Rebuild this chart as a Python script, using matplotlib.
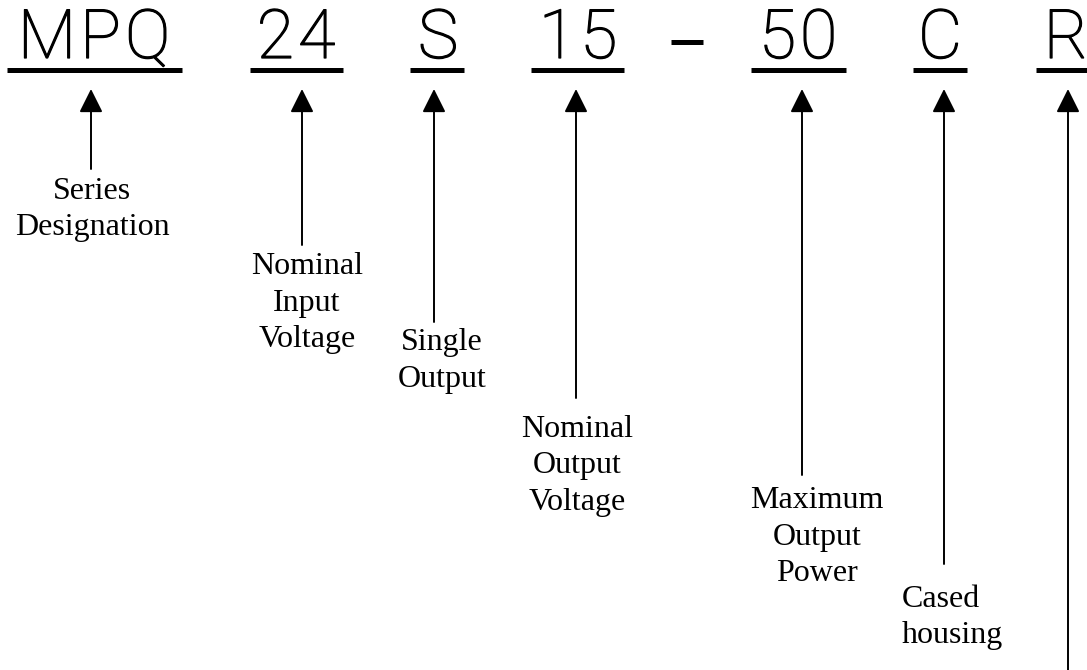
import matplotlib
matplotlib.use('Agg')
import matplotlib.pyplot as plt
import matplotlib.patheffects as pe

# part-number codes across the top
codes = ['MPQ', '24', 'S', '15', '50', 'C', 'R']
code_x = [94, 296, 438, 578, 798, 940, 1066]
under_l = [7, 250, 410, 531, 751, 913, 1036]
under_r = [182, 343, 464, 624, 846, 967, 1090]

# arrows: x position and where the stem ends (bottom)
arrow_x = [91, 302, 434, 576, 802, 944, 1068]
arrow_end = [169, 245, 322, 398, 475, 564, 672]

# captions under the arrows
captions = [
    ['Series', 'Designation'],
    ['Nominal', 'Input', 'Voltage'],
    ['Single', 'Output'],
    ['Nominal', 'Output', 'Voltage'],
    ['Maximum', 'Output', 'Power'],
    ['Cased', 'housing'],
]
cap_x = [92, 307, 442, 577, 817, 902]
cap_y = [199, 274, 350, 437, 508, 607]
cap_ha = ['center', 'center', 'center', 'center', 'center', 'left']

fig = plt.figure(figsize=(10.87, 6.70), dpi=100)
ax = fig.add_axes([0, 0, 1, 1])
ax.set_xlim(0, 1087)
ax.set_ylim(670, 0)
ax.axis('off')
renderer = fig.canvas.get_renderer()

code_font = dict(family=['Roboto', 'DejaVu Sans'], weight='light', size=49,
                 path_effects=[pe.withStroke(linewidth=0.9, foreground='black')])
tracking = 4  # extra px between letters

for i in range(len(codes)):
    # measure each letter, then lay them out with a bit of letter spacing
    widths = []
    for ch in codes[i]:
        t = ax.text(0, 0, ch, **code_font)
        widths.append(t.get_window_extent(renderer).width)
        t.remove()
    total = sum(widths) + tracking * (len(widths) - 1)
    x = code_x[i] - total / 2
    for ch, w in zip(codes[i], widths):
        ax.text(x, 58, ch, ha='left', va='baseline', **code_font)
        x += w + tracking
    ax.plot([under_l[i], under_r[i]], [69.5, 69.5], color='black', lw=3.6,
            solid_capstyle='butt')

# dash between 15 and 50
ax.plot([671, 703], [41.5, 41.5], color='black', lw=3.6, solid_capstyle='butt')

for i in range(len(arrow_x)):
    ax.annotate('', xy=(arrow_x[i], 89), xytext=(arrow_x[i], arrow_end[i]),
                arrowprops=dict(arrowstyle='-|>,head_length=1.0,head_width=0.5',
                                mutation_scale=14.4, lw=1.4, color='black',
                                shrinkA=0, shrinkB=0))

for i in range(len(captions)):
    for j, line in enumerate(captions[i]):
        ax.text(cap_x[i], cap_y[i] + j * 36.5, line, ha=cap_ha[i], va='baseline',
                family=['Liberation Serif'], size=23)

fig.savefig('out.png', dpi=100)
